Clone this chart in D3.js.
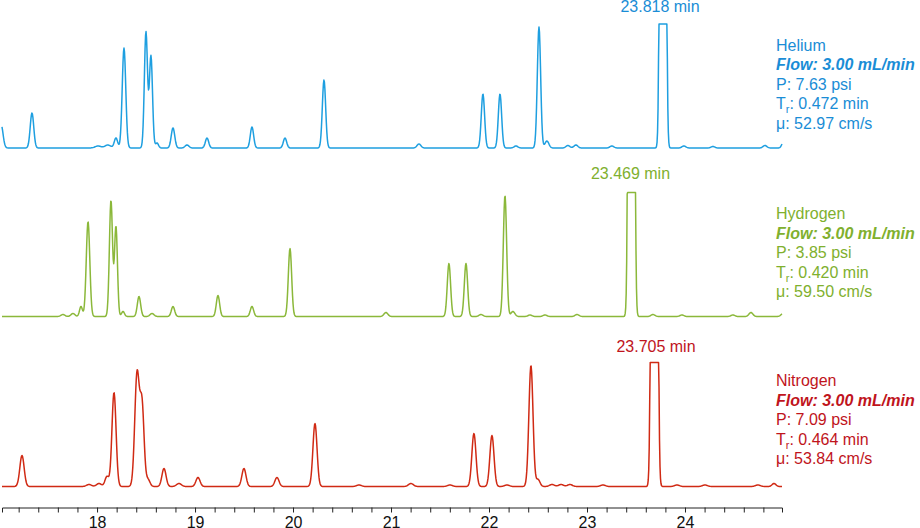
<!DOCTYPE html>
<html>
<head>
<meta charset="utf-8">
<script src="https://cdn.jsdelivr.net/npm/d3@7"></script>
<style>
  body { margin: 0; background: #fff; }
  svg { display: block; font-family: "Liberation Sans", Arial, sans-serif; }
</style>
</head>
<body>
<div id="chart"></div>
<script>
// peaks: [retention time (min), height, width (min)]
var heliumPeaks = [
  [17.02, 24, .02], [17.336, 35, .018], [18.01, 2, .03], [18.11, 3, .03], [18.193, 10, .017],
  [18.275, 100, .018], [18.499, 116, .016], [18.55, 92, .016], [18.612, 5, .015],
  [18.775, 20, .018], [18.918, 3, .02], [19.122, 10, .017], [19.581, 21, .017],
  [19.918, 10, .017], [20.316, 68, .017], [21.285, 4, .02], [21.938, 54, .017],
  [22.112, 54, .017], [22.275, 2, .02], [22.51, 121, .017], [22.591, 7, .02],
  [22.805, 2.5, .02], [22.887, 3, .02], [23.254, 2, .02], [23.775, 3000, .017],
  [23.989, 2, .02], [24.285, 1.5, .02], [24.816, 2.5, .02], [25.0, 5, .015]
]
var hydrogenPeaks = [
  [17.652, 2, .02], [17.754, 3, .02], [17.836, 10, .015], [17.908, 95, .018],
  [18.142, 116, .016], [18.193, 90, .015], [18.265, 5, .015], [18.428, 20, .017],
  [18.561, 3, .02], [18.775, 10, .017], [19.234, 21, .017], [19.581, 10, .017],
  [19.969, 68, .017], [20.948, 4, .02], [21.591, 53, .017], [21.765, 53, .017],
  [21.918, 2, .02], [22.163, 121, .017], [22.244, 5, .02], [22.418, 1.5, .02],
  [22.571, 1.5, .02], [22.898, 2, .02], [23.453, 3000, .017], [23.673, 2, .02],
  [23.969, 1.5, .02], [24.489, 1.5, .02], [24.673, 4, .02], [25.0, 3, .02]
]
var nitrogenPeaks = [
  [17.234, 31, .022], [17.918, 2, .025], [18.02, 3, .025], [18.101, 10, .02],
  [18.173, 94, .021], [18.408, 112, .023], [18.459, 80, .021], [18.52, 7, .02],
  [18.683, 18, .021], [18.836, 3, .025], [19.03, 9, .021], [19.499, 18, .021],
  [19.836, 9, .021], [20.224, 63, .021], [20.673, 1.5, .025], [21.203, 3, .025],
  [21.601, 1.5, .025], [21.846, 53, .021], [22.03, 51, .021], [22.183, 1.5, .025],
  [22.428, 121, .021], [22.5, 7, .02], [22.643, 2, .025], [22.735, 2, .025],
  [22.826, 2, .025], [23.163, 1.5, .025], [23.688, 3000, .018], [23.918, 1.5, .025],
  [24.204, 1.5, .025], [24.744, 1.5, .025], [24.908, 3, .02]
]

var gasNames = ["Helium", "Hydrogen", "Nitrogen"]
var solventPeakLabels = ["23.818 min", "23.469 min", "23.705 min"]
var flowLabels = ["3.00 mL/min", "3.00 mL/min", "3.00 mL/min"]
var pressureLabels = ["7.63 psi", "3.85 psi", "7.09 psi"]
var holdupLabels = ["0.472 min", "0.420 min", "0.464 min"]
var velocityLabels = ["52.97 cm/s", "59.50 cm/s", "53.84 cm/s"]
var xTicks = d3.range(86, 125).map(i => i / 5)

var traceColors = ["#1e9fe0", "#8bb83a", "#d02a14"]
var textColors = ["#1a8dd6", "#80b02e", "#c0141c"]
var baselines = [148, 316.5, 486.5]
var labelX = [660, 630.5, 656]
var labelY = [12, 179, 352]
var legendTop = [50.5, 219, 386]

var width = 920, height = 528
var clipLevel = 124

var svg = d3.select("#chart")
  .append("svg")
  .attr("width", width)
  .attr("height", height)

var x = d3.scaleLinear()
  .domain([17.03, 24.99])
  .range([2, 782])

// sample the trace from the peak table
var times = d3.range(0, 1593).map(i => 17.03 + i * 0.005)
var signal = function(peaks) {
  return times.map(function(t) {
    var v = 0
    peaks.forEach(function(p) {
      var d = (t - p[0]) / p[2]
      v += p[1] * Math.exp(-0.5 * d * d)
    })
    return [t, Math.min(v, clipLevel)]
  })
}

var allPeaks = [heliumPeaks, hydrogenPeaks, nitrogenPeaks]

allPeaks.forEach(function(peaks, i) {
  var y = d3.scaleLinear()
    .domain([0, clipLevel])
    .range([baselines[i], baselines[i] - clipLevel])

  var line = d3.line()
    .x(d => x(d[0]))
    .y(d => y(d[1]))

  svg.append("path")
    .datum(signal(peaks))
    .attr("d", line)
    .attr("fill", "none")
    .attr("stroke", traceColors[i])
    .attr("stroke-width", 1.5)
    .attr("stroke-linejoin", "round")

  svg.append("text")
    .attr("x", labelX[i])
    .attr("y", labelY[i])
    .attr("text-anchor", "middle")
    .style("font-size", "16px")
    .style("fill", textColors[i])
    .text(solventPeakLabels[i])

  // legend block
  var g = svg.append("g")
    .attr("transform", "translate(776," + legendTop[i] + ")")
    .style("font-size", "16px")
    .style("fill", textColors[i])
  var step = 19.5
  g.append("text").attr("y", 0).text(gasNames[i])
  g.append("text").attr("y", step)
    .style("font-weight", "bold").style("font-style", "italic")
    .text("Flow: " + flowLabels[i])
  g.append("text").attr("y", step * 2).text("P: " + pressureLabels[i])
  var tr = g.append("text").attr("y", step * 3)
  tr.append("tspan").text("T")
  tr.append("tspan").attr("dy", 4).style("font-size", "11px").text("r")
  tr.append("tspan").attr("dy", -4).text(": " + holdupLabels[i])
  g.append("text").attr("y", step * 4).text("\u03bc: " + velocityLabels[i])
})

// time axis
var axis = svg.append("g")
  .attr("transform", "translate(0,507.5)")
  .call(d3.axisBottom(x)
    .tickValues(xTicks)
    .tickSize(5)
    .tickSizeOuter(5)
    .tickPadding(4)
    .tickFormat(d => Number.isInteger(d) ? d : ""))
axis.selectAll("path, line").attr("stroke", "#222")
axis.selectAll("text")
  .style("font-size", "16px")
  .style("font-family", "'Liberation Sans', Arial, sans-serif")
  .attr("fill", "#111")
</script>
</body>
</html>
